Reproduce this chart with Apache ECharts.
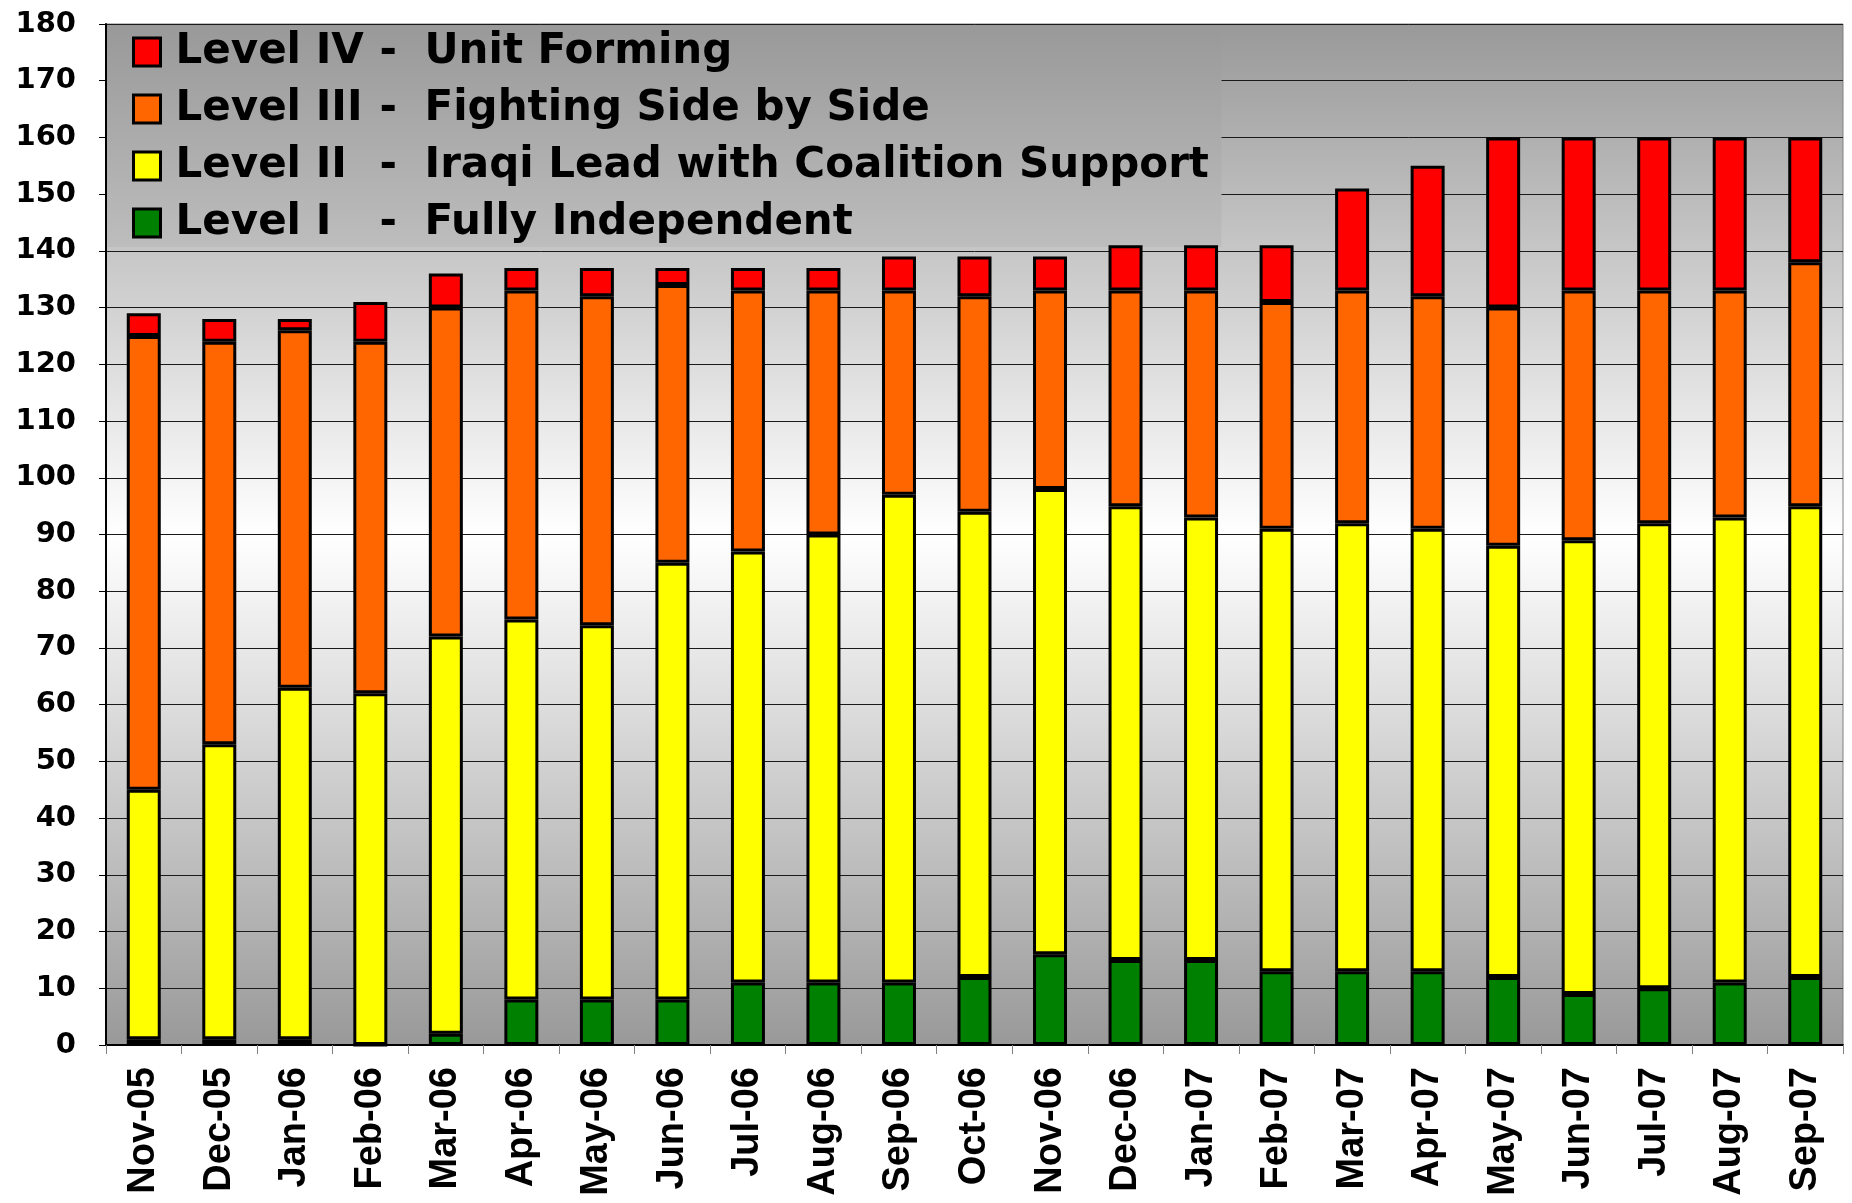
<!DOCTYPE html>
<html>
<head>
<meta charset="utf-8">
<script src="https://cdn.jsdelivr.net/npm/echarts@6/dist/echarts.min.js"></script>
<style>
html,body{margin:0;padding:0;background:#fff;}
#chart{width:1852px;height:1203px;}
</style>
</head>
<body>
<div id="chart"></div>
<script>
const categories = ['Nov-05','Dec-05','Jan-06','Feb-06','Mar-06','Apr-06','May-06','Jun-06','Jul-06','Aug-06','Sep-06','Oct-06','Nov-06','Dec-06','Jan-07','Feb-07','Mar-07','Apr-07','May-07','Jun-07','Jul-07','Aug-07','Sep-07'];
const level1 = [1,1,1,0,2,8,8,8,11,11,11,12,16,15,15,13,13,13,12,9,10,11,12];
const level2 = [44,52,62,62,70,67,66,77,76,79,86,82,82,80,78,78,79,78,76,80,82,82,83];
const level3 = [80,71,63,62,58,58,58,49,46,43,36,38,35,38,40,40,41,41,42,44,41,40,43];
const level4 = [4,4,2,7,6,4,5,3,4,4,6,7,6,8,8,10,18,23,30,27,27,27,22];
const levelNames = ['Level I - Fully Independent','Level II - Iraqi Lead with Coalition Support','Level III - Fighting Side by Side','Level IV - Unit Forming'];
const levelColors = ['#008000','#FFFF00','#FF6600','#FF0000'];
const levelData = [level1, level2, level3, level4];

const chart = echarts.init(document.getElementById('chart'));
const series = levelData.map((d, i) => ({
  name: levelNames[i],
  type: 'bar',
  stack: 'total',
  barWidth: '45%',
  data: d,
  itemStyle: { color: levelColors[i], borderColor: '#000', borderWidth: 3 }
}));

chart.setOption({
  animation: false,
  backgroundColor: '#fff',
  grid: {
    left: 106, right: 9, top: 24, bottom: 158,
    show: true,
    borderColor: '#808080', borderWidth: 1,
    backgroundColor: { type: 'linear', x: 0, y: 0, x2: 0, y2: 1,
      colorStops: [{offset: 0, color: '#999999'}, {offset: 0.5, color: '#ffffff'}, {offset: 1, color: '#999999'}] }
  },
  legend: {
    orient: 'vertical',
    left: 107, top: 25,
    z: 1,
    padding: [5, 12, 2, 25],
    icon: 'rect',
    itemWidth: 27, itemHeight: 28,
    itemGap: 13,
    itemStyle: { borderColor: '#000', borderWidth: 3 },
    data: [levelNames[3], levelNames[2], levelNames[1], levelNames[0]],
    backgroundColor: { type: 'linear', x: 0, y: 0, x2: 0, y2: 1,
      colorStops: [{offset: 0, color: '#999999'}, {offset: 1, color: '#bdbdbd'}] },
    formatter: function (name) {
      const parts = name.split(' - ');
      return '{a|' + parts[0] + '}{b|-}{c|' + parts[1] + '}';
    },
    textStyle: {
      fontFamily: 'DejaVu Sans', fontWeight: 'bold', fontSize: 42, color: '#000', lineHeight: 44,
      rich: {
        a: { fontFamily: 'DejaVu Sans', fontWeight: 'bold', fontSize: 42, width: 204, padding: [0,0,0,10], lineHeight: 44 },
        b: { fontFamily: 'DejaVu Sans', fontWeight: 'bold', fontSize: 42, width: 45, lineHeight: 44 },
        c: { fontFamily: 'DejaVu Sans', fontWeight: 'bold', fontSize: 42, width: 785, lineHeight: 44 }
      }
    }
  },
  xAxis: {
    type: 'category',
    data: categories,
    axisLine: { lineStyle: { color: '#000', width: 2 } },
    axisTick: { show: true, length: 9, lineStyle: { color: '#808080', width: 1 } },
    axisLabel: { rotate: 90, margin: 22, color: '#000', fontFamily: 'Liberation Sans', fontWeight: 'bold', fontSize: 38 }
  },
  yAxis: {
    type: 'value',
    min: 0, max: 180, interval: 10,
    axisLine: { show: true, lineStyle: { color: '#000', width: 2 } },
    axisTick: { show: true, length: 7, lineStyle: { color: '#000', width: 1 } },
    axisLabel: { margin: 30, color: '#000', fontFamily: 'DejaVu Sans', fontWeight: 'bold', fontSize: 29 },
    splitLine: { show: true, lineStyle: { color: '#1a1a1a', width: 1 } }
  },
  series: series
});
</script>
</body>
</html>
